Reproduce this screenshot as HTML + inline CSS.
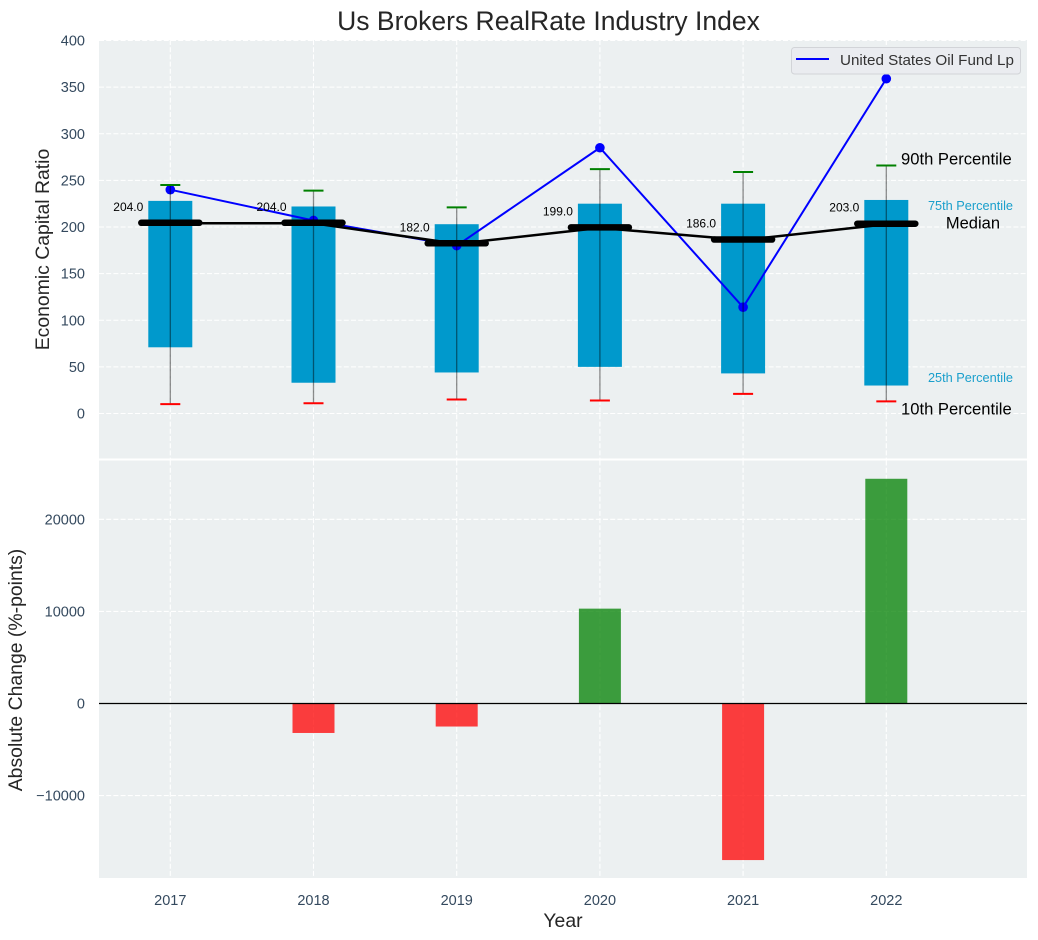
<!DOCTYPE html>
<html>
<head>
<meta charset="utf-8">
<title>Us Brokers RealRate Industry Index</title>
<style>
html,body{margin:0;padding:0;background:#fff;width:1038px;height:940px;overflow:hidden}
svg{display:block;font-family:"Liberation Sans",sans-serif}
.tick{font-size:14.5px;fill:#34495e}
.axis-title{font-size:19.4px;fill:#262626}
.grid{stroke:#fff;stroke-width:1.1;stroke-dasharray:5 2.2;opacity:1}
</style>
</head>
<body>
<svg id="chart" xmlns="http://www.w3.org/2000/svg" width="1038" height="940" viewBox="0 0 1038 940">
  <rect x="99" y="40" width="928" height="418.5" fill="#ecf0f1"/>
  <rect x="99" y="460.5" width="928" height="417.5" fill="#ecf0f1"/>
  <g id="grid"></g>
  <g id="marks"></g>
  <g id="labels"></g>
  <text x="548.5" y="30" text-anchor="middle" font-size="26.5" fill="#262626">Us Brokers RealRate Industry Index</text>
  <text class="axis-title" transform="translate(49,249.5) rotate(-90)" text-anchor="middle">Economic Capital Ratio</text>
  <text class="axis-title" transform="translate(22,670) rotate(-90)" text-anchor="middle">Absolute Change (%-points)</text>
  <text class="axis-title" x="563" y="927" text-anchor="middle">Year</text>
  <text x="901" y="164.5" font-size="16.6" fill="#000">90th Percentile</text>
  <text x="1013" y="210" font-size="12.75" fill="#1a9fcc" text-anchor="end">75th Percentile</text>
  <text x="1000" y="228.5" font-size="16.5" fill="#000" text-anchor="end">Median</text>
  <text x="1013" y="382" font-size="12.75" fill="#1a9fcc" text-anchor="end">25th Percentile</text>
  <text x="901" y="414.5" font-size="16.6" fill="#000">10th Percentile</text>
  <g>
    <rect x="791.5" y="47.5" width="229" height="26.5" rx="3" fill="#eaecf0" stroke="#d2d4d8"/>
    <line x1="796" x2="829" y1="59" y2="59" stroke="#0000ff" stroke-width="2"/>
    <text x="840" y="65" font-size="15.2" fill="#333">United States Oil Fund Lp</text>
  </g>
</svg>
<script>
const years = [2017, 2018, 2019, 2020, 2021, 2022];
const p90 = [245, 239, 221, 262, 259, 266];
const p75 = [228, 222, 203, 225, 225, 229];
const median = [204, 204, 182, 199, 186, 203];
const p25 = [71, 33, 44, 50, 43, 30];
const p10 = [10, 11, 15, 14, 21, 13];
const fundValues = [240, 207, 180, 285, 114, 359];
const changeValues = [0, -3200, -2500, 10300, -17000, 24400];
const topTicks = [0, 50, 100, 150, 200, 250, 300, 350, 400];
const bottomTicks = [-10000, 0, 10000, 20000];

const NS = 'http://www.w3.org/2000/svg';
const xScale = v => 170.3 + (v - 2017) * 143.2;
const yTop = v => 413.5 - v * 0.9325;
const yBottom = v => 703.5 - v * 0.00921;
const gridG = document.getElementById('grid');
const marks = document.getElementById('marks');
const labels = document.getElementById('labels');

function make(tag, attrs, parent) {
  const el = document.createElementNS(NS, tag);
  for (const k in attrs) el.setAttribute(k, attrs[k]);
  parent.appendChild(el);
  return el;
}

topTicks.forEach(t => {
  const g = make('line', {x1: 99, x2: 1027, y1: yTop(t), y2: yTop(t), class: 'grid'}, gridG);
  
  
  const l = make('text', {x: 85, y: yTop(t) + 5, class: 'tick', 'text-anchor': 'end'}, labels);
  l.textContent = String(t);
  
  
});
bottomTicks.forEach(t => {
  const g = make('line', {x1: 99, x2: 1027, y1: yBottom(t), y2: yBottom(t), class: 'grid'}, gridG);
  
  
  const l = make('text', {x: 85, y: yBottom(t) + 5, class: 'tick', 'text-anchor': 'end'}, labels);
  l.textContent = String(t).replace('-', '\u2212');
  
  
});
years.forEach(y => {
  const a = make('line', {x1: xScale(y), x2: xScale(y), y1: 40, y2: 458.5, class: 'grid'}, gridG);
  
  
  const b = make('line', {x1: xScale(y), x2: xScale(y), y1: 460.5, y2: 878, class: 'grid'}, gridG);
  
  
  const l = make('text', {x: xScale(y), y: 905, class: 'tick', 'text-anchor': 'middle'}, labels);
  l.textContent = String(y);
  
  
});

/* separator between panels */
const sep = make('rect', {x: 99, y: 458.5, width: 928, height: 2, fill: '#fff'}, gridG);



/* interquartile boxes */
years.forEach((y, i) => {
  const b = make('rect', {x: xScale(y) - 22, y: yTop(p75[i]), width: 44, height: yTop(p25[i]) - yTop(p75[i]), fill: '#0099cc'}, marks);
  
  
});

/* fund line */
const fundPts = years.map((y, i) => xScale(y) + ',' + yTop(fundValues[i])).join(' ');
const fundLine = make('polyline', {points: fundPts, fill: 'none', stroke: '#0000ff', 'stroke-width': 2}, marks);


years.forEach((y, i) => {
  const c = make('circle', {cx: xScale(y), cy: yTop(fundValues[i]), r: 4.8, fill: '#0000ff'}, marks);
  
  
});

/* whiskers and caps */
years.forEach((y, i) => {
  const x = xScale(y);
  const w = make('line', {x1: x, x2: x, y1: yTop(p90[i]), y2: yTop(p10[i]), stroke: '#000', 'stroke-opacity': .45, 'stroke-width': 1.3}, marks);
  
  
  const hi = make('line', {x1: x - 10, x2: x + 10, y1: yTop(p90[i]), y2: yTop(p90[i]), stroke: '#008000', 'stroke-width': 2}, marks);
  
  
  const lo = make('line', {x1: x - 10, x2: x + 10, y1: yTop(p10[i]), y2: yTop(p10[i]), stroke: '#ff0000', 'stroke-width': 2}, marks);
  
  
});

/* median line */
const medianPts = years.map((y, i) => xScale(y) + ',' + yTop(median[i])).join(' ');
const medianLine = make('polyline', {points: medianPts, fill: 'none', stroke: '#000', 'stroke-width': 2.5}, marks);


years.forEach((y, i) => {
  const x = xScale(y);
  const m = make('line', {x1: x - 29, x2: x + 29, y1: yTop(median[i]) - .5, y2: yTop(median[i]) - .5, stroke: '#000', 'stroke-width': 6.5, 'stroke-linecap': 'round'}, marks);
  
  
  const t = make('text', {x: x - 27, y: yTop(median[i]) - 12.5, 'font-size': 12, fill: '#000', 'text-anchor': 'end'}, marks);
  t.textContent = median[i].toFixed(1);
  
  
});

/* change bars */
years.forEach((y, i) => {
  const v = changeValues[i];
  const b = make('rect', {x: xScale(y) - 21, y: Math.min(yBottom(v), yBottom(0)), width: 42, height: Math.abs(yBottom(v) - yBottom(0)), fill: v >= 0 ? '#008000' : '#ff0000', 'fill-opacity': .75}, marks);
  
  
});
const zero = make('line', {x1: 99, x2: 1027, y1: yBottom(0), y2: yBottom(0), stroke: '#000', 'stroke-width': 1.2}, marks);


</script>
</body>
</html>
